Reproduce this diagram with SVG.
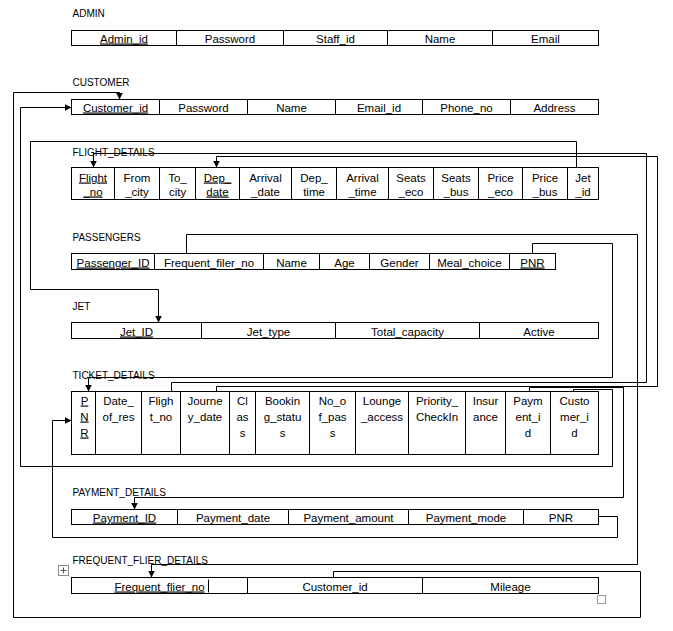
<svg xmlns="http://www.w3.org/2000/svg" width="673" height="631" viewBox="0 0 673 631">
<style>
  .lbl { font-family: "Liberation Sans", Arial, sans-serif; font-size: 10px; fill: #000; }
  .c { font-family: "Liberation Sans", Arial, sans-serif; font-size: 11.5px; fill: #000; text-anchor: middle; }
  .u { text-decoration: underline; }
  .box { fill: #fff; stroke: #000; stroke-width: 1; }
  .div { stroke: #000; stroke-width: 1; }
  .con { fill: none; stroke: #000; stroke-width: 1; }
  .arr { marker-end: url(#ah); }
</style>
<defs>
  <marker id="ah" markerUnits="userSpaceOnUse" markerWidth="7" markerHeight="7" refX="7" refY="3.5" orient="auto">
    <path d="M0,0 L7,3.5 L0,7 z" fill="#000"/>
  </marker>
</defs>
<rect width="673" height="631" fill="#fff"/>
<g transform="translate(0.5,0.5)">

<g id="connectors">
  <!-- FREQUENT_FLIER.Customer_id -> CUSTOMER.Customer_id -->
  <path class="con arr" d="M333,577 V571 H640 V617 H13 V92 H119 V99"/>
  <!-- TICKET.Customer_id -> CUSTOMER.Customer_id -->
  <path class="con arr" d="M573,391 V389 H612 V466 H20 V107 H71"/>
  <!-- FLIGHT.Jet_id -> JET.Jet_ID -->
  <path class="con arr" d="M576,167 V141 H30 V289 H158 V322"/>
  <!-- TICKET.Flight_no -> FLIGHT.Flight_no -->
  <path class="con arr" d="M171,391 V382 H646 V153 H93 V167"/>
  <!-- TICKET.Journey_date -> FLIGHT.Dep_date -->
  <path class="con arr" d="M216,391 V386 H657 V156 H216 V167"/>
  <!-- PASSENGERS.PNR -> TICKET.PNR -->
  <path class="con arr" d="M532,253 V243 H612 V377 H88 V391"/>
  <!-- PASSENGERS.Frequent_filer_no -> FREQUENT_FLIER.Frequent_flier_no -->
  <path class="con arr" d="M186,253 V234 H637 V564 H151 V577"/>
  <!-- PAYMENT.PNR -> TICKET.PNR -->
  <path class="con arr" d="M598,516 H617 V537 H52 V420 H71"/>
  <!-- TICKET.Payment_id -> PAYMENT.Payment_ID -->
  <path class="con arr" d="M529,391 V387 H623 V497 H134 V509"/>
</g>

<g id="admin">
  <text class="lbl" x="72" y="16">ADMIN</text>
  <rect class="box" x="71" y="30" width="527" height="15"/>
  <path class="div" d="M176,30 V45 M283,30 V45 M387,30 V45 M492,30 V45"/>
  <text class="c u" x="123.5" y="42">Admin_id</text>
  <text class="c" x="229.5" y="42">Password</text>
  <text class="c" x="335" y="42">Staff_id</text>
  <text class="c" x="439.5" y="42">Name</text>
  <text class="c" x="545" y="42">Email</text>
</g>

<g id="customer">
  <text class="lbl" x="72" y="85">CUSTOMER</text>
  <rect class="box" x="71" y="99" width="527" height="15"/>
  <path class="div" d="M159,99 V114 M247,99 V114 M335,99 V114 M422,99 V114 M510,99 V114"/>
  <text class="c u" x="115" y="111">Customer_id</text>
  <text class="c" x="203" y="111">Password</text>
  <text class="c" x="291" y="111">Name</text>
  <text class="c" x="378.5" y="111">Email_id</text>
  <text class="c" x="466" y="111">Phone_no</text>
  <text class="c" x="554" y="111">Address</text>
</g>

<g id="flight_details">
  <text class="lbl" x="72" y="155">FLIGHT_DETAILS</text>
  <rect class="box" x="71" y="167" width="527" height="32"/>
  <path class="div" d="M114,167 V199 M159,167 V199 M195,167 V199 M239,167 V199 M291,167 V199 M336,167 V199 M388,167 V199 M433,167 V199 M478,167 V199 M522,167 V199 M567,167 V199"/>
  <text class="c u" x="92.5" y="181">Flight</text><text class="c u" x="92.5" y="195">_no</text>
  <text class="c" x="136.5" y="181">From</text><text class="c" x="136.5" y="195">_city</text>
  <text class="c" x="177" y="181">To_</text><text class="c" x="177" y="195">city</text>
  <text class="c u" x="217" y="181">Dep_</text><text class="c u" x="217" y="195">date</text>
  <text class="c" x="265" y="181">Arrival</text><text class="c" x="265" y="195">_date</text>
  <text class="c" x="313.5" y="181">Dep_</text><text class="c" x="313.5" y="195">time</text>
  <text class="c" x="362" y="181">Arrival</text><text class="c" x="362" y="195">_time</text>
  <text class="c" x="410.5" y="181">Seats</text><text class="c" x="410.5" y="195">_eco</text>
  <text class="c" x="455.5" y="181">Seats</text><text class="c" x="455.5" y="195">_bus</text>
  <text class="c" x="500" y="181">Price</text><text class="c" x="500" y="195">_eco</text>
  <text class="c" x="544.5" y="181">Price</text><text class="c" x="544.5" y="195">_bus</text>
  <text class="c" x="582.5" y="181">Jet</text><text class="c" x="582.5" y="195">_id</text>
</g>

<g id="passengers">
  <text class="lbl" x="72" y="240">PASSENGERS</text>
  <rect class="box" x="71" y="253" width="484" height="16"/>
  <path class="div" d="M154,253 V269 M263,253 V269 M319,253 V269 M369,253 V269 M429,253 V269 M509,253 V269"/>
  <text class="c u" x="112.5" y="266">Passenger_ID</text>
  <text class="c" x="208.5" y="266">Frequent_filer_no</text>
  <text class="c" x="291" y="266">Name</text>
  <text class="c" x="344" y="266">Age</text>
  <text class="c" x="399" y="266">Gender</text>
  <text class="c" x="469" y="266">Meal_choice</text>
  <text class="c u" x="532" y="266">PNR</text>
</g>

<g id="jet">
  <text class="lbl" x="72" y="309">JET</text>
  <rect class="box" x="71" y="322" width="527" height="16"/>
  <path class="div" d="M201,322 V338 M335,322 V338 M479,322 V338"/>
  <text class="c u" x="136" y="335">Jet_ID</text>
  <text class="c" x="268" y="335">Jet_type</text>
  <text class="c" x="407" y="335">Total_capacity</text>
  <text class="c" x="538.5" y="335">Active</text>
</g>

<g id="ticket_details">
  <text class="lbl" x="72" y="378">TICKET_DETAILS</text>
  <rect class="box" x="71" y="391" width="527" height="63"/>
  <path class="div" d="M95,391 V454 M141,391 V454 M180,391 V454 M229,391 V454 M255,391 V454 M309,391 V454 M355,391 V454 M408,391 V454 M465,391 V454 M505,391 V454 M550,391 V454"/>
  <text class="c u" x="84" y="404">P</text><text class="c u" x="84" y="420">N</text><text class="c u" x="84" y="436">R</text>
  <text class="c" x="118" y="404">Date_</text><text class="c" x="118" y="420">of_res</text>
  <text class="c" x="160.5" y="404">Fligh</text><text class="c" x="160.5" y="420">t_no</text>
  <text class="c" x="204.5" y="404">Journe</text><text class="c" x="204.5" y="420">y_date</text>
  <text class="c" x="242" y="404">Cl</text><text class="c" x="242" y="420">as</text><text class="c" x="242" y="436">s</text>
  <text class="c" x="282" y="404">Bookin</text><text class="c" x="282" y="420">g_statu</text><text class="c" x="282" y="436">s</text>
  <text class="c" x="332" y="404">No_o</text><text class="c" x="332" y="420">f_pas</text><text class="c" x="332" y="436">s</text>
  <text class="c" x="381.5" y="404">Lounge</text><text class="c" x="381.5" y="420">_access</text>
  <text class="c" x="436.5" y="404">Priority_</text><text class="c" x="436.5" y="420">CheckIn</text>
  <text class="c" x="485" y="404">Insur</text><text class="c" x="485" y="420">ance</text>
  <text class="c" x="527.5" y="404">Paym</text><text class="c" x="527.5" y="420">ent_i</text><text class="c" x="527.5" y="436">d</text>
  <text class="c" x="574" y="404">Custo</text><text class="c" x="574" y="420">mer_i</text><text class="c" x="574" y="436">d</text>
</g>

<g id="payment_details">
  <text class="lbl" x="72" y="495">PAYMENT_DETAILS</text>
  <rect class="box" x="71" y="509" width="527" height="15"/>
  <path class="div" d="M177,509 V524 M288,509 V524 M408,509 V524 M523,509 V524"/>
  <text class="c u" x="124" y="521">Payment_ID</text>
  <text class="c" x="232.5" y="521">Payment_date</text>
  <text class="c" x="348" y="521">Payment_amount</text>
  <text class="c" x="465.5" y="521">Payment_mode</text>
  <text class="c" x="560.5" y="521">PNR</text>
</g>

<g id="frequent_flier_details">
  <text class="lbl" x="72" y="563">FREQUENT_FLIER_DETAILS</text>
  <rect x="58" y="565" width="10" height="10" fill="#fff" stroke="#8a8a8a" stroke-width="1"/>
  <path d="M63,567 V573 M60,570 H66" stroke="#555" stroke-width="1" fill="none"/>
  <rect class="box" x="71" y="577" width="527" height="16"/>
  <path class="div" d="M247,577 V593 M422,577 V593"/>
  <text class="c u" x="159" y="590">Frequent_flier_no</text>
  <line x1="208" y1="579" x2="208" y2="592" stroke="#000" stroke-width="1"/>
  <text class="c" x="334.5" y="590">Customer_id</text>
  <text class="c" x="510" y="590">Mileage</text>
  <rect x="597" y="595" width="8" height="8" fill="#fff" stroke="#9a9a9a" stroke-width="1"/>
</g>

</g>
</svg>
